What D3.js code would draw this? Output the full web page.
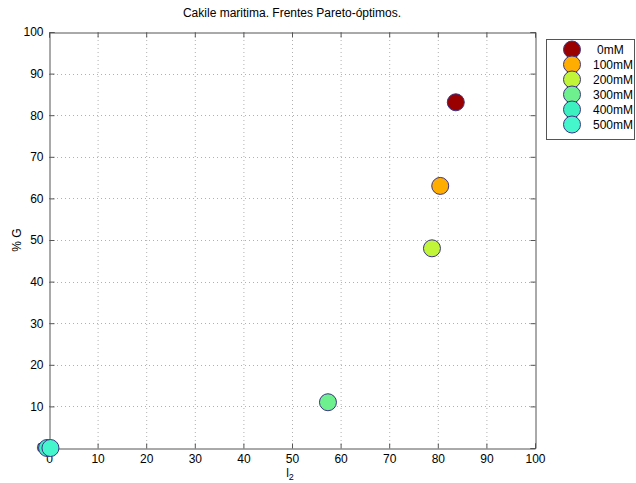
<!DOCTYPE html>
<html><head><meta charset="utf-8">
<script src="https://cdn.jsdelivr.net/npm/d3@7/dist/d3.min.js"></script>
<style>body{margin:0;background:#fff}svg{display:block}text{font-family:"Liberation Sans",Arial,sans-serif}</style>
</head><body>
<script>
const series = ["0mM","100mM","200mM","300mM","400mM","500mM"];
const xValues = [83.7, 80.5, 78.8, 57.4, -0.4, 0.3];
const yValues = [83.1, 63, 48, 11, 0, 0];
const colors = ["#9b0000","#ffad00","#c0f53a","#6ef08e","#3cf0bf","#45f5cc"];
const ticks = [0,10,20,30,40,50,60,70,80,90,100];
const title = "Cakile maritima. Frentes Pareto-óptimos.";

const W=636,H=483;
const svg=d3.select("body").append("svg").attr("width",W).attr("height",H);
const L=49,R=535,T=32,B=448;
const x=d3.scaleLinear().domain([0,100]).range([L,R]);
const y=d3.scaleLinear().domain([0,100]).range([B,T]);

// grid
const g=svg.append("g");
g.selectAll(".gx").data(ticks.slice(1,-1)).enter().append("line")
 .attr("x1",d=>x(d)+0.5).attr("x2",d=>x(d)+0.5).attr("y1",T).attr("y2",B)
 .attr("stroke","#b0b0b0").attr("stroke-dasharray","1,3");
g.selectAll(".gy").data(ticks.slice(1,-1)).enter().append("line")
 .attr("y1",d=>Math.round(y(d))+0.5).attr("y2",d=>Math.round(y(d))+0.5).attr("x1",L).attr("x2",R)
 .attr("stroke","#b0b0b0").attr("stroke-dasharray","1,3");

// axes
const xa=svg.append("g").attr("transform",`translate(0,${B+0.5})`)
 .call(d3.axisBottom(x).tickValues(ticks).tickSize(-5).tickPadding(6));
const xt=svg.append("g").attr("transform",`translate(0,${T+0.5})`)
 .call(d3.axisTop(x).tickValues(ticks).tickSize(-5).tickFormat(""));
const ya=svg.append("g").attr("transform",`translate(${L+0.5},0)`)
 .call(d3.axisLeft(y).tickValues(ticks).tickSize(-5).tickPadding(6));
const yr=svg.append("g").attr("transform",`translate(${R+0.5},0)`)
 .call(d3.axisRight(y).tickValues(ticks).tickSize(-5).tickFormat(""));
[xa,xt,ya,yr].forEach(a=>{
  a.selectAll("path,line").attr("stroke","#555");
  a.selectAll("text").attr("fill","#000").style("font-size","12px");
});

// points
svg.append("g").selectAll("circle").data(series).enter().append("circle")
 .attr("cx",(d,i)=>x(xValues[i])).attr("cy",(d,i)=>y(yValues[i])).attr("r",8.5)
 .attr("fill",(d,i)=>colors[i]).attr("stroke","#3d3585").attr("stroke-width",1);

// title
svg.append("text").attr("x",292).attr("y",17).attr("text-anchor","middle")
 .style("font-size","12px").text(title);
// y label
svg.append("text").attr("transform","translate(21,240) rotate(-90)").attr("text-anchor","middle")
 .style("font-size","12px").text("% G");
// x label
const xl=svg.append("text").attr("x",290).attr("y",477).attr("text-anchor","middle").style("font-size","12px");
xl.append("tspan").text("l");
xl.append("tspan").attr("dy",3).style("font-size","9px").text("2");

// legend
const lg=svg.append("g");
lg.append("rect").attr("x",546.5).attr("y",39.5).attr("width",88).attr("height",100)
 .attr("fill","#fff").attr("stroke","#555");
const rows=lg.selectAll("g.r").data(series).enter().append("g")
 .attr("transform",(d,i)=>`translate(0,${49.5+i*15})`);
rows.append("circle").attr("cx",572).attr("cy",0).attr("r",8.5)
 .attr("fill",(d,i)=>colors[i]).attr("stroke","#3d3585");
rows.append("text").attr("x",(d,i)=>i===0?597:593).attr("y",4.5).style("font-size","12px").text(d=>d);
</script>
</body></html>
